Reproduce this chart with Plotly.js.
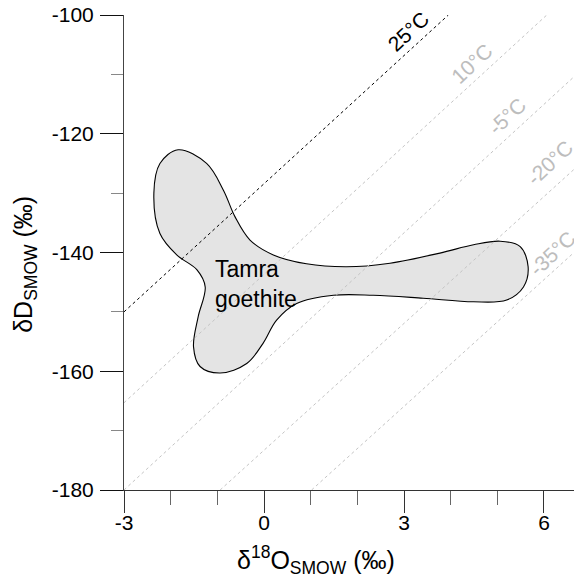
<!DOCTYPE html>
<html>
<head>
<meta charset="utf-8">
<script src="https://cdn.plot.ly/plotly-3.0.1.min.js"></script>
<style>html,body{margin:0;padding:0;background:#fff;}#chart{width:574px;height:582px;}</style>
</head>
<body>
<div id="chart"></div>
<script>
// Tamra goethite field outline (δ18O, δD)
const blobX = [1.77, 2.70, 3.77, 4.49, 5.06, 5.49, 5.66, 5.56, 5.20, 4.49, 3.41, 2.34, 1.49, 0.70, 0.27, -0.02, -0.37, -0.94, -1.37, -1.51, -1.41, -1.26, -1.44, -1.87, -2.23, -2.36, -2.23, -1.84, -1.23, -0.87, -0.62, -0.30, 0.20, 0.91, 1.77];
const blobY = [-142.4, -141.8, -140.1, -138.7, -138.1, -139.0, -142.4, -145.8, -148.0, -148.3, -147.7, -147.2, -147.2, -148.6, -151.4, -155.3, -158.7, -160.3, -159.2, -155.9, -150.8, -145.8, -142.9, -140.4, -136.8, -130.0, -125.0, -122.7, -125.0, -129.5, -134.0, -137.9, -140.4, -141.9, -142.4];

// Temperature lines (endpoints in δ18O, δD)
const tempLabels = ["25°C", "10°C", "-5°C", "-20°C", "-35°C"];
const lineX = [[-3, 3.95], [-3, 6.06], [-3, 6.643], [-0.94, 6.643], [1.02, 6.643]];
const lineY = [[-150, -100], [-165.3, -100], [-180, -110.4], [-180, -126], [-180, -140]];
const labelX = [3.09, 4.45, 5.20, 6.13, 6.17];
const labelY = [-102.8, -108.1, -117.1, -124.9, -140.1];

const xTicks = [-3, 0, 3, 6];
const yTicks = [-180, -160, -140, -120, -100];

const FONT = "Liberation Sans, Arial, sans-serif";

const traces = [{
  x: blobX, y: blobY, type: "scatter", mode: "lines",
  line: {color: "#000", width: 1.1, shape: "spline", smoothing: 1},
  fill: "toself", fillcolor: "#e4e4e4", hoverinfo: "skip", showlegend: false
}];
tempLabels.forEach((t, i) => {
  traces.push({
    x: lineX[i], y: lineY[i], type: "scatter", mode: "lines",
    line: {color: i === 0 ? "#000" : "#c4c4c4", width: 1, dash: "dot"},
    hoverinfo: "skip", showlegend: false
  });
});

const annotations = tempLabels.map((t, i) => ({
  x: labelX[i], y: labelY[i], xref: "x", yref: "y", text: t, showarrow: false,
  textangle: -43, font: {family: FONT, size: 21, color: i === 0 ? "#000" : "#bdbdbd"}
}));
annotations.push({
  x: -1.1, y: -145.3, xref: "x", yref: "y", text: "Tamra<br>goethite", showarrow: false,
  xanchor: "left", yanchor: "middle", align: "left", font: {family: FONT, size: 23, color: "#000"}
});
annotations.push({
  x: 0.427, y: -0.147, xref: "paper", yref: "paper", showarrow: false,
  xanchor: "center", yanchor: "middle",
  text: "δ<sup>18</sup>O<sub>SMOW</sub> (‰)", font: {family: FONT, size: 25, color: "#000"}
});
annotations.push({
  x: -0.22, y: 0.474, xref: "paper", yref: "paper", showarrow: false, textangle: -90,
  xanchor: "center", yanchor: "middle",
  text: "δD<sub>SMOW</sub> (‰)", font: {family: FONT, size: 25, color: "#000"}
});

const layout = {
  width: 574, height: 582,
  margin: {l: 124, r: 0, t: 15, b: 92, pad: 0},
  paper_bgcolor: "#fff", plot_bgcolor: "#fff",
  showlegend: false, hovermode: false,
  font: {family: FONT, size: 20, color: "#000"},
  xaxis: {
    range: [-3, 6.643], tickvals: xTicks, ticktext: xTicks.map(String),
    ticks: "outside", ticklen: 22, tickwidth: 1, tickcolor: "#333",
    ticklabelstandoff: -8,
    minor: {tick0: -3, dtick: 1, ticks: "outside", ticklen: 14, tickcolor: "#666", tickwidth: 1, showgrid: false},
    showline: true, linecolor: "#333", linewidth: 1, showgrid: false, zeroline: false,
    tickfont: {family: FONT, size: 21, color: "#000"}
  },
  yaxis: {
    range: [-180, -100], tickvals: yTicks, ticktext: yTicks.map(String),
    ticks: "outside", ticklen: 23, tickwidth: 1, tickcolor: "#111",
    ticklabelstandoff: 2,
    minor: {tick0: -100, dtick: 10, ticks: "outside", ticklen: 12, tickcolor: "#888", tickwidth: 1, showgrid: false},
    showline: true, linecolor: "#444", linewidth: 1, showgrid: false, zeroline: false,
    tickfont: {family: FONT, size: 21, color: "#000"}
  },
  annotations: annotations
};

Plotly.newPlot("chart", traces, layout, {staticPlot: true, displayModeBar: false});
</script>
</body>
</html>
